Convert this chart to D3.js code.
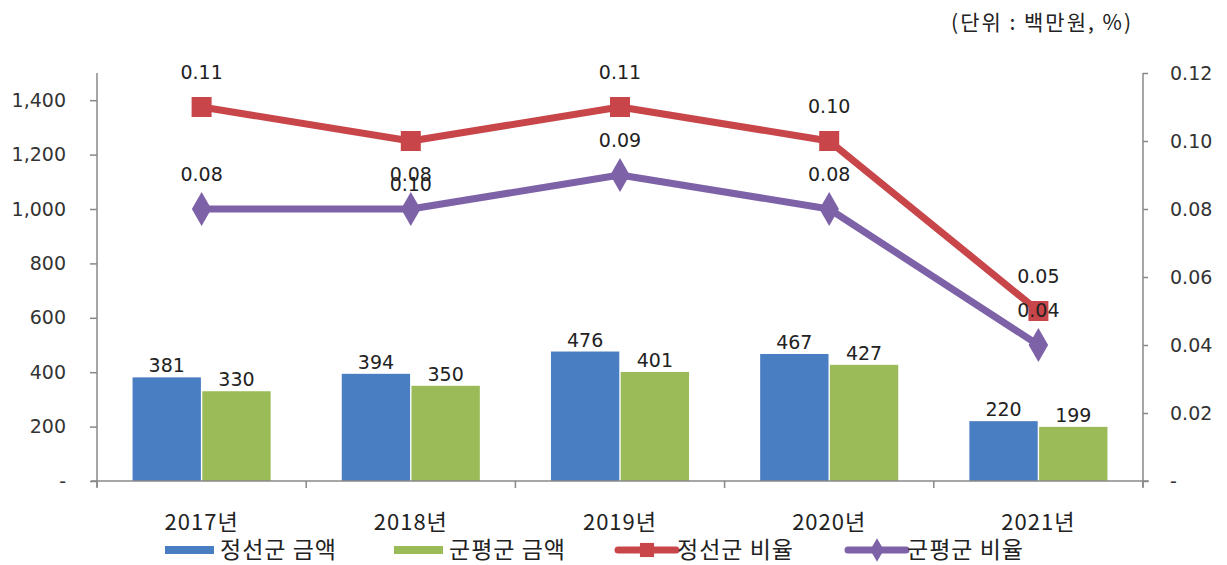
<!DOCTYPE html>
<html><head><meta charset="utf-8">
<script src="https://cdn.jsdelivr.net/npm/d3@7"></script>
<style>
body{margin:0;background:#fff;}
svg{display:block;}
</style></head>
<body>
<svg id="chart" width="1227" height="565"></svg>
<script>
const categories = ["2017년","2018년","2019년","2020년","2021년"];
const seriesNames = ["정선군 금액","군평군 금액","정선군 비율","군평군 비율"];
const jeongseonAmount = [381,394,476,467,220];
const gunpyeongAmount = [330,350,401,427,199];
const jeongseonRate = [0.11,0.10,0.11,0.10,0.05];
const gunpyeongRate = [0.08,0.08,0.09,0.08,0.04];
const jeongseonRateLabelPos = ["above","below","above","above","above"];
const gunpyeongRateLabelPos = ["above","above","above","above","above"];
const leftTicks = [0,200,400,600,800,1000,1200,1400];
const rightTicks = [0,0.02,0.04,0.06,0.08,0.10,0.12];
const unitLabel = "(단위 : 백만원, %)";

(function(){
const colors = {blue:"#4A7EC3", green:"#9BBB59", red:"#C8464A", purple:"#7E62A8"};
const numFont = "'DejaVu Sans', sans-serif";
const korFont = "'Noto Sans CJK KR', sans-serif";

const svg = d3.select("#chart");
const pLeft = 97, pRight = 1143, pTop = 73, pBottom = 481;

const x = d3.scaleBand().domain(categories).range([pLeft, pRight]).padding(0);
const yL = d3.scaleLinear().domain([0,1500]).range([pBottom, pTop]);
const yR = d3.scaleLinear().domain([0,0.12]).range([pBottom, pTop]);
const inner = d3.scaleBand().domain([0,1]).range([0, x.bandwidth()]).paddingInner(0.02).paddingOuter(0.51);

// Bars
const barSeries = [
  {vals: jeongseonAmount, color: colors.blue, idx:0},
  {vals: gunpyeongAmount, color: colors.green, idx:1}
];
barSeries.forEach(s => {
  svg.append("g").selectAll("rect").data(s.vals).join("rect")
    .attr("x", (d,i) => x(categories[i]) + inner(s.idx))
    .attr("width", inner.bandwidth())
    .attr("y", d => yL(d))
    .attr("height", d => pBottom - yL(d))
    .attr("fill", s.color);
  svg.append("g").selectAll("text").data(s.vals).join("text")
    .attr("x", (d,i) => x(categories[i]) + inner(s.idx) + inner.bandwidth()/2)
    .attr("y", d => yL(d) - 5)
    .attr("text-anchor","middle")
    .attr("font-family", numFont).attr("font-size", 19).attr("fill","#222")
    .text(d => d3.format(",")(d));
});

// Axes
const axisColor = "#888";
const gL = svg.append("g").attr("transform",`translate(${pLeft},0)`)
  .call(d3.axisLeft(yL).tickValues(leftTicks).tickSize(7).tickPadding(24)
    .tickFormat(d => d === 0 ? "-" : d3.format(",")(d)));
gL.select(".domain").attr("d", `M0,${pTop}V${pBottom+6}`);
const gR = svg.append("g").attr("transform",`translate(${pRight},0)`)
  .call(d3.axisRight(yR).tickValues(rightTicks).tickSize(5).tickPadding(22)
    .tickFormat(d => d === 0 ? "-" : d3.format(".2f")(d)));
gR.select(".domain").attr("d", `M0,${pTop}V${pBottom+6}`);
gR.selectAll(".tick text").attr("x", 27).attr("text-anchor","start");
[gL,gR].forEach(g => {
  g.selectAll(".domain").attr("stroke", axisColor).attr("stroke-width",1.5);
  g.selectAll(".tick line").attr("stroke", axisColor).attr("stroke-width",1.5);
  g.selectAll(".tick text").attr("font-family", numFont).attr("font-size", 19).attr("fill","#333");
});
// bottom axis
const gB = svg.append("g").attr("transform",`translate(0,${pBottom})`);
gB.append("line").attr("x1", pLeft-6).attr("x2", pRight+6).attr("stroke", axisColor).attr("stroke-width",1.5);
gB.selectAll("line.tk").data(d3.range(categories.length+1)).join("line").attr("class","tk")
  .attr("x1", i => pLeft + i*x.step()).attr("x2", i => pLeft + i*x.step())
  .attr("y1",0).attr("y2",7).attr("stroke", axisColor).attr("stroke-width",1.5);
gB.selectAll("text").data(categories).join("text")
  .attr("x", d => x(d) + x.bandwidth()/2).attr("y", 49)
  .attr("text-anchor","middle").attr("font-family", korFont).attr("font-size", 22)
  .attr("letter-spacing", 1).attr("fill","#222")
  .text(d => d);

// Lines
const lineSeries = [
  {vals: jeongseonRate, color: colors.red, shape: d3.symbolSquare, size: 400, pos: jeongseonRateLabelPos},
  {vals: gunpyeongRate, color: colors.purple, shape: d3.symbolDiamond, size: 330, pos: gunpyeongRateLabelPos}
];
const cx = i => x(categories[i]) + x.bandwidth()/2;
lineSeries.forEach(s => {
  const line = d3.line().x((d,i) => cx(i)).y(d => yR(d));
  svg.append("path").datum(s.vals).attr("d", line)
    .attr("fill","none").attr("stroke", s.color).attr("stroke-width",7).attr("stroke-linejoin","round");
  svg.append("g").selectAll("path").data(s.vals).join("path")
    .attr("transform",(d,i) => `translate(${cx(i)},${yR(d)})`)
    .attr("d", d3.symbol().type(s.shape).size(s.size)).attr("fill", s.color);
});
lineSeries.forEach(s => {
  svg.append("g").selectAll("text").data(s.vals).join("text")
    .attr("x",(d,i) => cx(i))
    .attr("y",(d,i) => s.pos[i] === "below" ? yR(d) + 50 : yR(d) - 28)
    .attr("text-anchor","middle").attr("font-family", numFont).attr("font-size", 19).attr("fill","#222")
    .text(d => d3.format(".2f")(d));
});

// Unit label
svg.append("text").attr("x", 1133).attr("y", 30).attr("text-anchor","end")
  .attr("font-family", korFont).attr("font-size", 21).attr("letter-spacing", 2).attr("fill","#222").text(unitLabel);

// Legend
const legendItems = [
  {name: seriesNames[0], color: colors.blue, type:"bar", x:165},
  {name: seriesNames[1], color: colors.green, type:"bar", x:394},
  {name: seriesNames[2], color: colors.red, type:"line", shape:d3.symbolSquare, x:618},
  {name: seriesNames[3], color: colors.purple, type:"line", shape:d3.symbolDiamond, x:848}
];
const ly = 550;
const lg = svg.append("g");
legendItems.forEach(it => {
  const g = lg.append("g").attr("transform",`translate(${it.x},${ly})`);
  if (it.type === "bar") {
    g.append("rect").attr("x",0).attr("y",-4).attr("width",49).attr("height",8).attr("fill",it.color);
    g.append("text").attr("x",55).attr("y",8).attr("font-family",korFont).attr("font-size",23).attr("letter-spacing",1).attr("fill","#222").text(it.name);
  } else {
    g.append("line").attr("x1",0).attr("x2",58).attr("stroke",it.color).attr("stroke-width",7).attr("stroke-linecap","round");
    g.append("path").attr("transform","translate(29,0)").attr("d",d3.symbol().type(it.shape).size(it.shape===d3.symbolSquare?200:160)).attr("fill",it.color);
    g.append("text").attr("x",59).attr("y",8).attr("font-family",korFont).attr("font-size",23).attr("letter-spacing",1).attr("fill","#222").text(it.name);
  }
});
})();
</script>
</body></html>
